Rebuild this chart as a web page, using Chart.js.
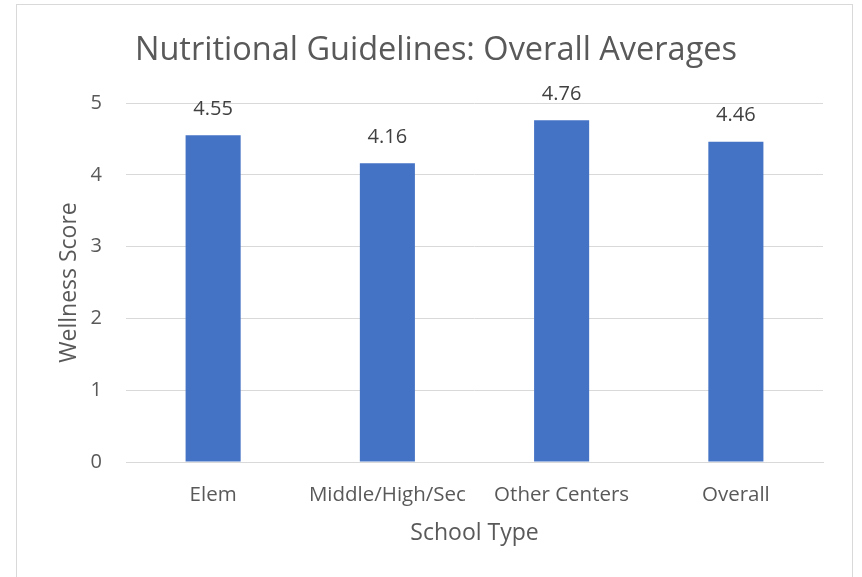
<!DOCTYPE html>
<html>
<head>
<meta charset="utf-8">
<script src="https://cdn.jsdelivr.net/npm/chart.js@4"></script>
<style>
  body { margin: 0; background: #fff; }
  #box {
    position: absolute; left: 16px; top: 4px;
    width: 835px; height: 585px;
    border: 1px solid #d9d9d9; background: #fff;
  }
</style>
</head>
<body>
<div id="box"><canvas id="chart" width="835" height="585"></canvas></div>
<script>
const categories = ["Elem", "Middle/High/Sec", "Other Centers", "Overall"];
const scores = [4.55, 4.16, 4.76, 4.46];
const yTicks = [0, 1, 2, 3, 4, 5];

const fontName = "'Open Sans', 'Noto Sans', sans-serif";
const grey = "#595959";

// valeurs au-dessus des barres
const valueLabels = {
  id: "valueLabels",
  afterDatasetsDraw(chart) {
    const ctx = chart.ctx;
    const meta = chart.getDatasetMeta(0);
    ctx.save();
    ctx.font = "20px " + fontName;
    ctx.fillStyle = "#404040";
    ctx.textAlign = "center";
    ctx.textBaseline = "middle";
    meta.data.forEach((bar, i) => {
      ctx.fillText(scores[i].toFixed(2), bar.x, bar.y - 26);
    });
    ctx.restore();
  }
};

new Chart(document.getElementById("chart"), {
  type: "bar",
  data: {
    labels: categories,
    datasets: [{
      data: scores,
      backgroundColor: "#4472c4",
      barPercentage: 0.316,
      categoryPercentage: 1
    }]
  },
  options: {
    responsive: false,
    animation: false,
    layout: { padding: { left: 32, right: 29, top: 0, bottom: 28 } },
    plugins: {
      legend: { display: false },
      tooltip: { enabled: false },
      title: {
        display: true,
        text: "Nutritional Guidelines: Overall Averages",
        color: grey,
        font: { family: fontName, size: 32.5, weight: "normal" },
        padding: { top: 26, bottom: 33 }
      }
    },
    scales: {
      x: {
        grid: { display: false },
        border: { color: "#d9d9d9" },
        ticks: { color: grey, font: { family: fontName, size: 20.5 }, padding: 13 },
        title: {
          display: true, text: "School Type", color: grey,
          font: { family: fontName, size: 23 }, padding: { top: 0, bottom: 15 }
        },
        afterFit(scale) { scale.height = 100; }
      },
      y: {
        min: 0, max: 5,
        afterBuildTicks(scale) { scale.ticks = yTicks.map(v => ({ value: v })); },
        grid: { color: "#d9d9d9", drawTicks: false },
        border: { display: false },
        ticks: { color: grey, font: { family: fontName, size: 20 }, padding: 24 },
        title: {
          display: true, text: "Wellness Score", color: grey,
          font: { family: fontName, size: 23 }, padding: { top: 7, bottom: 0 }
        },
        afterFit(scale) { scale.width = 77; }
      }
    }
  },
  plugins: [valueLabels]
});
</script>
</body>
</html>
